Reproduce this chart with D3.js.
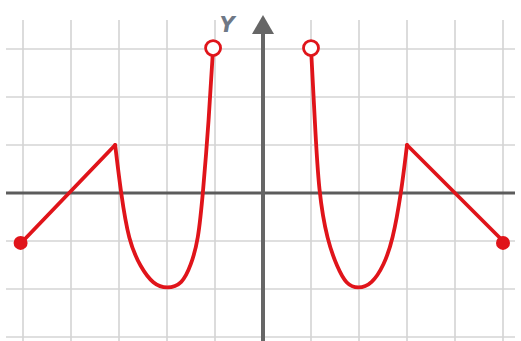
<!DOCTYPE html>
<html>
<head>
<meta charset="utf-8">
<script src="https://cdn.jsdelivr.net/npm/d3@7"></script>
<style>
	html, body { margin: 0; padding: 0; background: #fff; }
	svg { display: block; }
</style>
</head>
<body>
<svg id="chart" width="521" height="341"></svg>
<script>
// grid positions (units)
const gridX = [-5, -4, -3, -2, -1, 1, 2, 3, 4, 5];
const gridY = [3, 2, 1, -1, -2, -3];

// left piece: straight line then the U curve
const leftLineX = [-5, -3.08];
const leftLineY = [-1, 1];
const leftCurveX = [-3.08, -2.96, -2.8, -2.55, -2.29, -2, -1.68, -1.5, -1.35, -1.25, -1.13, -1.04];
const leftCurveY = [1, 0, -1, -1.55, -1.9, -2.0, -1.9, -1.5, -1, 0, 1.5, 3.02];

// right piece
const rightCurveX = [1.0, 1.08, 1.16, 1.34, 1.55, 1.73, 1.98, 2.27, 2.52, 2.7, 2.88, 3.0];
const rightCurveY = [3.02, 1.5, 0, -1, -1.55, -1.9, -2.0, -1.9, -1.5, -1, 0, 1];
const rightLineX = [3, 5];
const rightLineY = [1, -1];

// end points
const openX = [-1.04, 1.0];
const openY = [3.02, 3.02];
const closedX = [-5.05, 5];
const closedY = [-1.04, -1.04];

const svg = d3.select('#chart');
const x = d3.scaleLinear().domain([-5, 5]).range([23, 503]);
const y = d3.scaleLinear().domain([-2, 3]).range([289, 49]);

const red = '#e0141a';

// grid
svg.append('g')
	.selectAll('line')
	.data(gridX)
	.enter()
	.append('line')
	.attr('x1', d => x(d)).attr('x2', d => x(d))
	.attr('y1', 20).attr('y2', 341)
	.attr('stroke', '#d4d4d4')
	.attr('stroke-width', 1.6);

svg.append('g')
	.selectAll('line')
	.data(gridY)
	.enter()
	.append('line')
	.attr('x1', 6).attr('x2', 515)
	.attr('y1', d => y(d)).attr('y2', d => y(d))
	.attr('stroke', '#d4d4d4')
	.attr('stroke-width', 1.6);

// axes
svg.append('line')
	.attr('x1', 6).attr('x2', 515)
	.attr('y1', y(0)).attr('y2', y(0))
	.attr('stroke', '#5c5c5c')
	.attr('stroke-width', 3);

svg.append('line')
	.attr('x1', x(0)).attr('x2', x(0))
	.attr('y1', 30).attr('y2', 341)
	.attr('stroke', '#666')
	.attr('stroke-width', 4);

svg.append('path')
	.attr('d', `M${x(0) - 11},34 L${x(0) + 11},34 L${x(0)},15 Z`)
	.attr('fill', '#666');

svg.append('text')
	.attr('x', 227).attr('y', 32)
	.attr('text-anchor', 'middle')
	.attr('font-family', 'DejaVu Sans, sans-serif')
	.attr('font-style', 'italic')
	.attr('font-weight', 'bold')
	.attr('font-size', 21)
	.attr('fill', '#6e7886')
	.text('Y');

const toPts = (xs, ys) => xs.map((v, i) => [v, ys[i]]);

const straight = d3.line().x(d => x(d[0])).y(d => y(d[1]));
const smooth = d3.line().x(d => x(d[0])).y(d => y(d[1])).curve(d3.curveBasis);

const pieces = [
	{ pts: toPts(leftLineX, leftLineY), gen: straight },
	{ pts: toPts(leftCurveX, leftCurveY), gen: smooth },
	{ pts: toPts(rightCurveX, rightCurveY), gen: smooth },
	{ pts: toPts(rightLineX, rightLineY), gen: straight }
];

svg.append('g')
	.selectAll('path')
	.data(pieces)
	.enter()
	.append('path')
	.attr('d', d => d.gen(d.pts))
	.attr('fill', 'none')
	.attr('stroke', red)
	.attr('stroke-width', 3.8)
	.attr('stroke-linejoin', 'round')
	.attr('stroke-linecap', 'round');

svg.append('g')
	.selectAll('circle')
	.data(toPts(openX, openY))
	.enter()
	.append('circle')
	.attr('cx', d => x(d[0])).attr('cy', d => y(d[1]))
	.attr('r', 7.5)
	.attr('fill', '#fff')
	.attr('stroke', red)
	.attr('stroke-width', 2.8);

svg.append('g')
	.selectAll('circle')
	.data(toPts(closedX, closedY))
	.enter()
	.append('circle')
	.attr('cx', d => x(d[0])).attr('cy', d => y(d[1]))
	.attr('r', 7)
	.attr('fill', red);
</script>
</body>
</html>
